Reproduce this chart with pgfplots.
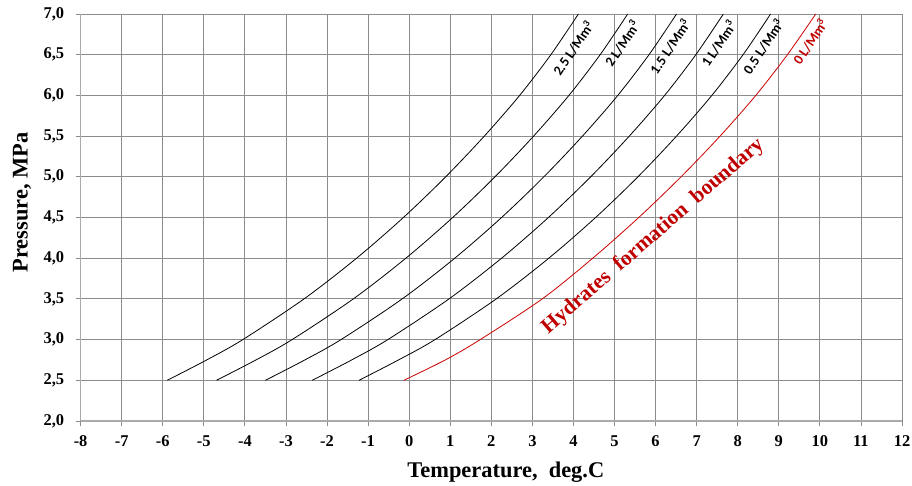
\documentclass[border=0pt]{standalone}
\usepackage{pgfplots}
\pgfplotsset{compat=1.18}
\usepackage{fontspec}
\setmainfont{Liberation Serif}
\newfontfamily\lblfont{Carlito}
\definecolor{gridgray}{RGB}{140,140,140}
\definecolor{axgray}{RGB}{170,170,170}
\definecolor{curvered}{RGB}{205,0,0}
\definecolor{textred}{RGB}{192,0,0}
\begin{document}
\begin{tikzpicture}
\begin{axis}[
  at={(80.6bp,65bp)}, anchor=south west,
  scale only axis, width=821.4bp, height=407bp,
  xmin=-8, xmax=12, ymin=2, ymax=7,
  xtick={-8,-7,...,12}, ytick={2,2.5,...,7},
  axis lines*=left,
  axis line style={axgray, line width=1.4bp},
  grid=major,
  major grid style={gridgray, line width=0.8bp},
  tick align=outside, major tick length=5bp,
  tick style={gridgray, line width=0.8bp},
  /pgf/number format/assume math mode=true,
  yticklabel style={/pgf/number format/use comma, /pgf/number format/fixed, /pgf/number format/fixed zerofill, /pgf/number format/precision=1, xshift=-8bp},
  tick label style={font=\bfseries\fontsize{16.5}{18}\selectfont},
  xticklabel style={yshift=-6bp},
  xlabel={Temperature,\ \ deg.C},
  ylabel={Pressure, MPa},
  label style={font=\bfseries\fontsize{22.5}{26}\selectfont},
  xlabel style={at={(axis description cs:0.5177,-0.1383)}, anchor=base},
  ylabel style={at={(axis description cs:-0.0646,0.5369)}, anchor=base},
  clip=false,
]
% 2.5 L/Mm3
\addplot[black, line width=0.8bp, smooth] coordinates {
(-5.89,2.5) (-4.93,2.75) (-4.05,3.0) (-2.56,3.5) (-1.28,4.0) (-0.14,4.5) (0.89,5.0) (1.83,5.5) (2.69,6.0) (3.45,6.5) (4.12,7.0)};
% 2 L/Mm3
\addplot[black, line width=0.8bp, smooth] coordinates {
(-4.69,2.5) (-3.73,2.75) (-2.85,3.0) (-1.36,3.5) (-0.08,4.0) (1.06,4.5) (2.09,5.0) (3.03,5.5) (3.89,6.0) (4.65,6.5) (5.32,7.0)};
% 1.5 L/Mm3
\addplot[black, line width=0.8bp, smooth] coordinates {
(-3.50,2.5) (-2.54,2.75) (-1.66,3.0) (-0.17,3.5) (1.11,4.0) (2.25,4.5) (3.28,5.0) (4.22,5.5) (5.08,6.0) (5.84,6.5) (6.51,7.0)};
% 1 L/Mm3
\addplot[black, line width=0.8bp, smooth] coordinates {
(-2.36,2.5) (-1.40,2.75) (-0.52,3.0) (0.97,3.5) (2.25,4.0) (3.39,4.5) (4.42,5.0) (5.36,5.5) (6.22,6.0) (6.98,6.5) (7.65,7.0)};
% 0.5 L/Mm3
\addplot[black, line width=0.8bp, smooth] coordinates {
(-1.22,2.5) (-0.26,2.75) (0.63,3.0) (2.12,3.5) (3.40,4.0) (4.54,4.5) (5.57,5.0) (6.51,5.5) (7.37,6.0) (8.13,6.5) (8.80,7.0)};
% 0 L/Mm3
\addplot[curvered, line width=0.8bp, smooth] coordinates {
(-0.13,2.5) (0.88,2.75) (1.73,3.0) (3.24,3.5) (4.47,4.0) (5.59,4.5) (6.62,5.0) (7.57,5.5) (8.44,6.0) (9.21,6.5) (9.90,7.0)};

\begin{scope}[every node/.style={font=\lblfont\bfseries\fontsize{14}{16}\selectfont, rotate=56, inner sep=0pt}]
\node at (axis cs:3.99,6.58) {2.5 L/Mm\textsuperscript{3}};
\node at (axis cs:5.18,6.64) {2 L/Mm\textsuperscript{3}};
\node at (axis cs:6.35,6.60) {1.5 L/Mm\textsuperscript{3}};
\node at (axis cs:7.53,6.64) {1 L/Mm\textsuperscript{3}};
\node at (axis cs:8.62,6.60) {0.5 L/Mm\textsuperscript{3}};
\node[text=textred] at (axis cs:9.76,6.66) {0 L/Mm\textsuperscript{3}};
\end{scope}
\node[text=textred, font=\bfseries\fontsize{21.5}{24}\selectfont, rotate=41, inner sep=0pt] at (axis cs:5.94,4.27) {Hydrates\ \ formation\ \ boundary};
\end{axis}
\pgfresetboundingbox
\path[use as bounding box] (0,0) rectangle (912bp,486bp);
\end{tikzpicture}
\end{document}
